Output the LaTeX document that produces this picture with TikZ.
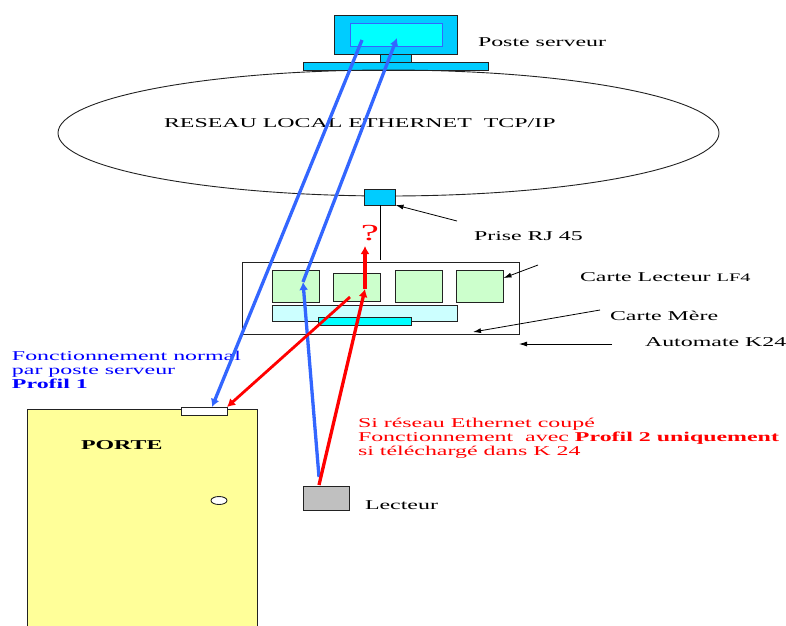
\documentclass[tikz,border=0pt]{standalone}
\usepackage{fontspec}
\setmainfont[FakeStretch=1.77]{Liberation Serif}
\usepackage{xcolor}
\usetikzlibrary{arrows.meta,calc,positioning,shapes.geometric}
\definecolor{ciel}{HTML}{00CCFF}
\definecolor{ecran}{HTML}{00FFFF}
\definecolor{lineblue}{HTML}{3366FF}
\definecolor{textblue}{HTML}{0000FF}
\definecolor{linered}{HTML}{FF0000}
\definecolor{vert}{HTML}{CCFFCC}
\definecolor{pale}{HTML}{CCFFFF}
\definecolor{porte}{HTML}{FFFF99}
\definecolor{gris}{HTML}{C0C0C0}
\definecolor{trait}{HTML}{222222}
\tikzset{
  boite/.style={draw=trait,line width=0.9pt,inner sep=0pt,outer sep=0pt},
  carte/.style={boite,fill=vert,minimum width=47pt,minimum height=32pt},
  lbl/.style={inner sep=0pt,outer sep=0pt,anchor=west,align=left,font=\fontsize{13.5}{14}\selectfont},
  fleche/.style={->,line width=0.8pt,black},
  flux/.style={->,line width=3.3pt,>={Latex[length=8pt,width=9pt]}}
}

\begin{document}
\begin{tikzpicture}[x=1pt,y=-1pt,>={Latex[length=8pt,width=5pt]}]
  \useasboundingbox (0,0) rectangle (786,625);
  % poste serveur
  \node[boite,fill=ciel,minimum width=123pt,minimum height=39pt] (moniteur) at (395.5,34.5) {};
  \node[boite,draw=lineblue,fill=ecran,minimum width=92pt,minimum height=23pt] (ecran) at (396,34.5) {};
  \node[boite,fill=ciel,minimum width=31pt,minimum height=8pt] (pied) at (395.5,58) {};
  \node[boite,fill=ciel,minimum width=185pt,minimum height=8pt] (socle) at (395.5,66) {};
  \node[lbl] (poste) at (478,42) {Poste serveur};
  % reseau
  \node[draw=trait,line width=0.9pt,ellipse,inner sep=0pt,minimum width=661pt,minimum height=126pt] (reseau) at (388.5,133) {};
  \node[lbl] (ethernet) at (164,123) {RESEAU LOCAL ETHERNET\ \ TCP/IP};
  \node[boite,fill=ciel,minimum width=31pt,minimum height=16pt] (prise) at (380,197) {};
  \node[lbl] (priselbl) at (474,236) {Prise RJ 45};
  % automate
  \node[boite,minimum width=277pt,minimum height=72pt] (automate) at (380.5,298) {};
  \node[carte] (carteA) at (295.5,286) {};
  \node[carte,minimum height=28pt] (carteB) at (357,287) {};
  \node[carte] (carteC) at (418.5,286) {};
  \node[carte] (carteD) at (480,286) {};
  \node[boite,fill=pale,minimum width=185pt,minimum height=16pt] (mere) at (364.5,313) {};
  \node[boite,fill=ecran,minimum width=93pt,minimum height=8pt] (puce) at (364.5,321.5) {};
  \node[lbl] (lecteurlbl) at (580,277) {Carte Lecteur {\fontsize{11.5}{12}\selectfont LF4}};
  \node[lbl] (merelbl) at (610,316) {Carte Mère};
  \node[lbl] (k24) at (645,342.5) {Automate K24};
  % porte
  \node[boite,fill=porte,minimum width=230pt,minimum height=236pt] (door) at (142,527) {};
  \node[boite,fill=white,minimum width=46pt,minimum height=8pt] (gache) at (204,411) {};
  \node[boite,fill=white,ellipse,minimum width=16pt,minimum height=8pt] (poignee) at (219,500.5) {};
  \node[lbl] (portelbl) at (81,445) {\bfseries PORTE};
  % lecteur
  \node[boite,fill=gris,minimum width=46pt,minimum height=24pt] (badge) at (326.5,498.5) {};
  \node[lbl] (badgelbl) at (365,505) {Lecteur};
  % textes
  \node[lbl,textblue,anchor=north west] (normal) at (12,351) {Fonctionnement normal\\par poste serveur\\\textbf{Profil 1}};
  \node[lbl,linered,anchor=north west] (coupe) at (358,418) {Si réseau Ethernet coupé\\Fonctionnement\ \ avec \textbf{Profil 2 uniquement}\\si téléchargé dans K 24};
  \node[lbl,linered,anchor=center,font=\fontsize{23}{23}\selectfont] (question) at (370,233) {?};
  % liaisons
  \coordinate (priseB) at (380,260);
  \draw[line width=0.8pt,black] (prise.south -| priseB) -- (priseB);
  \coordinate (a1) at (457,221);
  \coordinate (a2) at (538,265);
  \coordinate (a3) at (600,310);
  \coordinate (a4) at (612,344);
  \draw[fleche] (a1) -- (prise.south east);
  \draw[fleche] (a2) -- (503.5,278);
  \draw[fleche] (a3) -- (473,332);
  \draw[fleche] (a4) -- (automate.south east |- a4);
  % flux bleus
  \coordinate (b1) at (362,40);
  \coordinate (b2) at (212,407);
  \coordinate (b3) at (319,477);
  \coordinate (b4) at (303,282);
  \coordinate (b5) at (397,38);
  \draw[flux,lineblue] (b1) -- (b2);
  \draw[flux,lineblue] (b3) -- (b4);
  \draw[flux,lineblue] (b4) -- (b5);
  % flux rouges
  \coordinate (r1) at (350,297);
  \coordinate (r2) at (319,485);
  \coordinate (r3) at (365,289);
  \coordinate (r4) at (365,246);
  \draw[flux,linered,line width=2.8pt] (r1) -- (gache.north east);
  \draw[flux,linered] (r2) -- (r3);
  \draw[flux,linered] (r3) -- (r4);
\end{tikzpicture}
\end{document}
